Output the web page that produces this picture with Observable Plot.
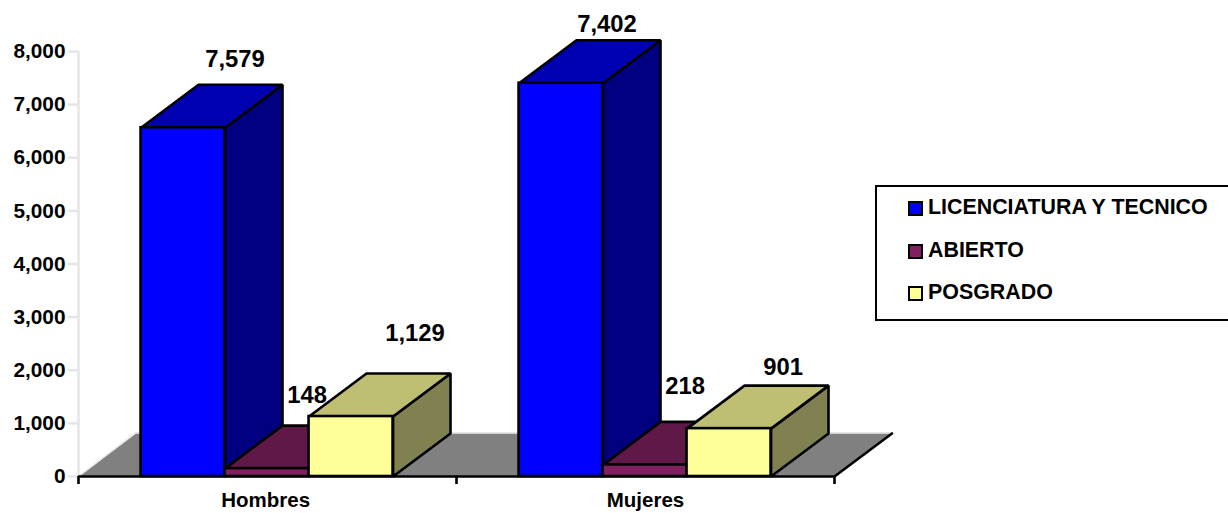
<!DOCTYPE html>
<html>
<head>
<meta charset="utf-8">
<script src="https://cdn.jsdelivr.net/npm/d3@7"></script>
<script src="https://cdn.jsdelivr.net/npm/@observablehq/plot@0.6"></script>
<style>
html,body{margin:0;padding:0;background:#fff;overflow:hidden}
#wrap{position:relative;width:1228px;height:513px;overflow:hidden;font-family:"Liberation Sans",Arial,sans-serif}
#legend{position:absolute;left:875px;top:185px;width:400px;height:132px;border:2px solid #000;box-sizing:content-box;background:#fff}
#legend .row{position:absolute;left:31px;height:20px;display:flex;align-items:center;font-weight:bold;font-size:21.4px;color:#000;white-space:nowrap}
#legend .sw{display:inline-block;width:11px;height:11px;border:2px solid #000;margin-right:5px;position:relative;top:1px}
</style>
</head>
<body>
<div id="wrap"></div>
<script>
const categories = ["Hombres", "Mujeres"];
const seriesNames = ["LICENCIATURA Y TECNICO", "ABIERTO", "POSGRADO"];
// Height each bar is drawn at, read against the axis
const licenciaturaBars = [6565, 7402];
const abiertoBars = [148, 218];
const posgradoBars = [1129, 901];
// Printed value labels
const licenciaturaLabels = [7579, 7402];
const abiertoLabels = [148, 218];
const posgradoLabels = [1129, 901];
const yTicks = [0, 1000, 2000, 3000, 4000, 5000, 6000, 7000, 8000];

// Styles and layout
const frontColors = ["#0000ff", "#802060", "#ffff99"];
const topColors = ["#0000b3", "#601848", "#bfbf73"];
const sideColors = ["#000080", "#401030", "#808050"];
const depthX = 0.152, depthY = 810;
const barW = 2 / 9, groupPad = 0.1655;
const labelNudges = [
  [[-5.5, -25], [-17.5, -30], [6.5, -40]],
  [[-11.5, -16], [-17.5, -36], [-3.5, -18]]
];

const barSeries = [licenciaturaBars, abiertoBars, posgradoBars];
const labelSeries = [licenciaturaLabels, abiertoLabels, posgradoLabels];
const lw = 2.6;
const marks = [];

function poly(points, fill, extra = {}) {
  return Plot.line(points, {x: "x", y: "y", fill, stroke: "#000", strokeWidth: lw, curve: "linear-closed", strokeLinejoin: "miter", ...extra});
}

// Floor
marks.push(Plot.line(
  [{x: 0, y: 0}, {x: depthX, y: depthY}, {x: 2 + depthX, y: depthY}, {x: 2, y: 0}],
  {x: "x", y: "y", fill: "#808080", stroke: "none", curve: "linear-closed"}
));
marks.push(Plot.line(
  [{x: 0, y: 0}, {x: depthX, y: depthY + 15}, {x: 2 + depthX, y: depthY + 15}],
  {x: "x", y: "y", stroke: "#e6e6e6", strokeWidth: 1.5}
));
marks.push(Plot.line(
  [{x: 2, y: 0}, {x: 2 + depthX, y: depthY}],
  {x: "x", y: "y", stroke: "#000", strokeWidth: lw}
));

// Y axis wall line + ticks/labels
marks.push(Plot.ruleX([0], {y1: 0, y2: 8000, stroke: "#e6e6e6", strokeWidth: 2.5}));
marks.push(Plot.axisY({
  ticks: yTicks, tickFormat: d3.format(","), tickSize: 10, tickPadding: 3,
  stroke: "#e6e6e6", strokeWidth: 2.5, fill: "#000",
  fontSize: 20.8, fontWeight: "bold", label: null
}));

// Bars
categories.forEach((c, i) => {
  barSeries.forEach((series, j) => {
    const v = series[i];
    const x1 = i + groupPad + j * barW, x2 = x1 + barW;
    marks.push(poly([{x: x2, y: 0}, {x: x2 + depthX, y: depthY}, {x: x2 + depthX, y: v + depthY}, {x: x2, y: v}], sideColors[j]));
    marks.push(poly([{x: x1, y: v}, {x: x1 + depthX, y: v + depthY}, {x: x2 + depthX, y: v + depthY}, {x: x2, y: v}], topColors[j]));
    marks.push(Plot.rect([{x1, x2, y1: 0, y2: v}], {x1: "x1", x2: "x2", y1: "y1", y2: "y2", fill: frontColors[j], stroke: "#000", strokeWidth: lw}));
  });
});

// X axis
marks.push(Plot.ruleY([0], {x1: 0, x2: 2, stroke: "#000", strokeWidth: 2.6}));
marks.push(Plot.axisX({ticks: [0, 1, 2], tickSize: 8, tickFormat: () => "", strokeWidth: 2.6, stroke: "#000", label: null}));
marks.push(Plot.axisX({
  ticks: [0.495, 1.5], tickSize: 0, tickPadding: 15.5,
  tickFormat: d => categories[Math.floor(d)],
  fontSize: 20.5, fontWeight: "bold", fill: "#000", stroke: "none", label: null
}));

// Value labels
categories.forEach((c, i) => {
  labelSeries.forEach((series, j) => {
    const x = i + groupPad + (j + 0.5) * barW + depthX;
    const y = barSeries[j][i] + depthY;
    const [dx, dy] = labelNudges[i][j];
    marks.push(Plot.text([{x, y, t: d3.format(",")(series[i])}], {
      x: "x", y: "y", text: "t", dx, dy, fontSize: 23.8, fontWeight: "bold", fill: "#000", clip: false
    }));
  });
});

const chart = Plot.plot({
  width: 1228, height: 513,
  marginLeft: 78, marginRight: 394, marginTop: 51, marginBottom: 37,
  style: {background: "#fff", fontFamily: "'Liberation Sans', Arial, sans-serif", overflow: "visible"},
  x: {type: "linear", domain: [0, 2], axis: null},
  y: {type: "linear", domain: [0, 8000], axis: null},
  marks
});
const wrap = document.getElementById("wrap");
wrap.appendChild(chart);

// Legend
const legend = document.createElement("div");
legend.id = "legend";
const rowTops = [10, 53, 95];
seriesNames.forEach((name, j) => {
  const row = document.createElement("div");
  row.className = "row";
  row.style.top = rowTops[j] + "px";
  const sw = document.createElement("span");
  sw.className = "sw";
  sw.style.background = frontColors[j];
  row.appendChild(sw);
  row.appendChild(document.createTextNode(name));
  legend.appendChild(row);
});
wrap.appendChild(legend);
</script>
</body>
</html>
